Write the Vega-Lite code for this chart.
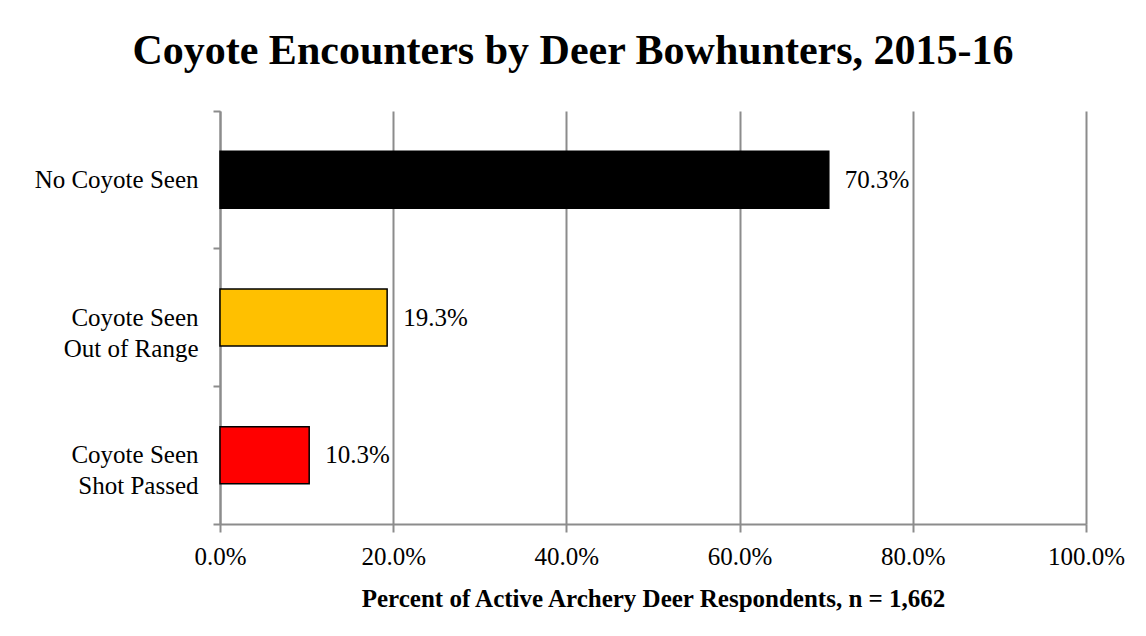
{
  "$schema": "https://vega.github.io/schema/vega-lite/v6.json",
  "width": 866,
  "height": 413,
  "autosize": {"type": "none"},
  "padding": {"left": 220, "top": 111, "right": 60, "bottom": 112},
  "background": "white",
  "title": {
    "text": "Coyote Encounters by Deer Bowhunters, 2015-16",
    "font": "Liberation Serif",
    "fontSize": 42,
    "fontWeight": "bold",
    "color": "black",
    "anchor": "middle",
    "dx": -80,
    "offset": 26
  },
  "data": {
    "values": [
      {"category": "No Coyote Seen", "pct": 0.703, "label": "70.3%"},
      {"category": "Coyote Seen|Out of Range", "pct": 0.193, "label": "19.3%"},
      {"category": "Coyote Seen|Shot Passed", "pct": 0.103, "label": "10.3%"}
    ]
  },
  "encoding": {
    "y": {
      "field": "category",
      "type": "nominal",
      "sort": null,
      "scale": {"paddingInner": 0, "paddingOuter": 0},
      "axis": {
        "title": null,
        "labelExpr": "isValid(datum.value) ? split(datum.value, '|') : ''",
        "labelFont": "Liberation Serif",
        "labelFontSize": 25,
        "labelColor": "black",
        "labelAlign": "right",
        "labelLineHeight": 31,
        "labelPadding": 15,
        "bandPosition": 1,
        "tickExtra": true,
        "tickSize": 7,
        "tickColor": "#8c8c8c",
        "tickWidth": 2,
        "domainColor": "#8c8c8c",
        "domainWidth": 2,
        "grid": false
      }
    },
    "x": {
      "field": "pct",
      "type": "quantitative",
      "scale": {"domain": [0, 1], "nice": false},
      "axis": {
        "title": "Percent of Active Archery Deer Respondents, n = 1,662",
        "titleFont": "Liberation Serif",
        "titleFontSize": 25,
        "titleFontWeight": "bold",
        "titleColor": "black",
        "titlePadding": 17,
        "format": ".1%",
        "values": [0, 0.2, 0.4, 0.6, 0.8, 1],
        "labelFont": "Liberation Serif",
        "labelFontSize": 25,
        "labelColor": "black",
        "labelPadding": 12,
        "labelFlush": false,
        "tickSize": 8,
        "tickColor": "#8c8c8c",
        "tickWidth": 2,
        "domainColor": "#8c8c8c",
        "domainWidth": 2,
        "grid": true,
        "gridColor": "#8c8c8c",
        "gridWidth": 2
      }
    }
  },
  "layer": [
    {
      "mark": {"type": "bar", "stroke": "black", "strokeWidth": 1.5, "height": {"band": 0.414}},
      "encoding": {
        "color": {
          "field": "category",
          "type": "nominal",
          "scale": {
            "domain": ["No Coyote Seen", "Coyote Seen|Out of Range", "Coyote Seen|Shot Passed"],
            "range": ["#000000", "#FFC000", "#FF0000"]
          },
          "legend": null
        }
      }
    },
    {
      "mark": {
        "type": "text",
        "align": "left",
        "baseline": "middle",
        "dx": 16,
        "font": "Liberation Serif",
        "fontSize": 25,
        "color": "black"
      },
      "encoding": {"text": {"field": "label"}}
    }
  ],
  "config": {"view": {"stroke": null}}
}
